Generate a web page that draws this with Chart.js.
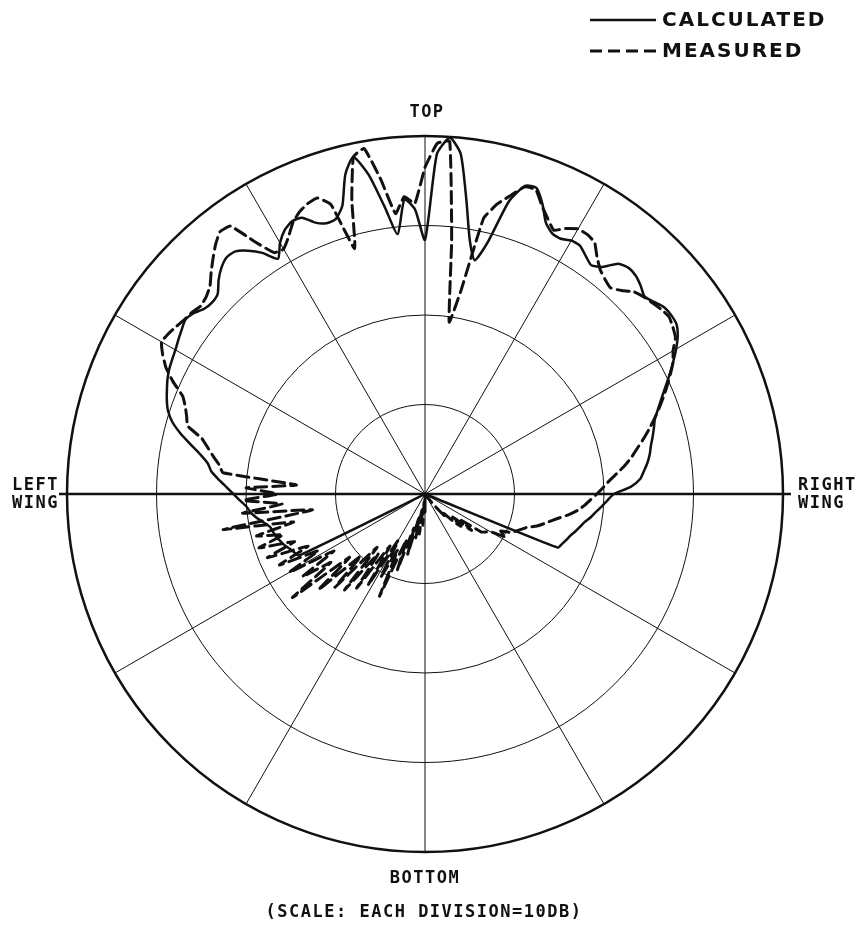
<!DOCTYPE html>
<html>
<head>
<meta charset="utf-8">
<script src="https://cdn.jsdelivr.net/npm/chart.js@4.4.1/dist/chart.umd.min.js"></script>
<style>
  html, body { margin: 0; padding: 0; background: #fff; overflow: hidden; }
  canvas { display: block; }
</style>
</head>
<body>
<canvas id="pattern" width="858" height="930"></canvas>
<script>
// Bearing of each sample in degrees, clockwise from TOP, every 2 degrees
const angles = Array.from({ length: 180 }, (_, i) => i * 2);

// Relative level in dB (0 = peak, -40 = centre of the plot)
const calculated = [
  /*   0 */ -11.6, -2.0, -0.1, -1.8, -6.8, -11.2, -13.3, -11.0, -6.0, -3.8,
  /*  20 */ -3.6, -5.0, -6.8, -7.6, -7.7, -7.3, -7.3, -7.9, -8.4, -7.8,
  /*  40 */ -6.4, -6.0, -6.1, -6.5, -7.0, -6.6, -6.1, -6.0, -6.1, -6.7,
  /*  60 */ -7.6, -8.6, -9.6, -10.6, -11.5, -12.3, -13.0, -13.4, -13.8, -14.2,
  /*  80 */ -14.5, -14.9, -15.4, -15.9, -17.0, -18.9, -19.6, -20.2, -20.8, -21.3,
  /* 100 */ -21.9, -22.3, -22.7, -23.1, -23.4, -23.7, -24.0, -40, -40, -40,
  /* 120 */ -40, -40, -40, -40, -40, -40, -40, -40, -40, -40,
  /* 140 */ -40, -40, -40, -40, -40, -40, -40, -40, -40, -40,
  /* 160 */ -40, -40, -40, -40, -40, -40, -40, -40, -40, -40,
  /* 180 */ -40, -40, -40, -40, -40, -40, -40, -40, -40, -40,
  /* 200 */ -40, -40, -40, -40, -40, -40, -40, -40, -40, -40,
  /* 220 */ -40, -40, -40, -40, -40, -40, -40, -40, -40, -40,
  /* 240 */ -40, -40, -24.3, -24.0, -23.7, -23.3, -23.0, -22.7, -22.5, -22.3,
  /* 260 */ -21.7, -21.0, -20.4, -20.0, -19.3, -18.6, -17.8, -16.9, -16.0, -15.5,
  /* 280 */ -14.5, -13.2, -11.8, -10.6, -9.8, -9.3, -8.9, -8.5, -8.2, -8.0,
  /* 300 */ -7.8, -7.5, -7.2, -6.9, -7.2, -7.8, -8.0, -7.8, -6.8, -6.0,
  /* 320 */ -5.5, -5.6, -6.4, -7.5, -9.0, -7.6, -6.6, -6.1, -6.2, -7.3,
  /* 340 */ -7.8, -7.7, -6.5, -3.2, -1.5, -3.8, -7.6, -10.8, -7.0, -8.2
];

const measured = [
  /*   0 */ -3.5, -0.8, -0.5, -11.5, -20.6, -17.0, -8.5, -6.6, -5.3, -3.9,
  /*  20 */ -3.8, -5.2, -6.3, -7.2, -6.4, -5.8, -5.8, -6.1, -7.3, -8.2,
  /*  40 */ -8.7, -9.0, -8.4, -7.5, -7.1, -6.8, -6.5, -6.3, -6.6, -7.0,
  /*  60 */ -8.0, -8.6, -9.5, -10.4, -11.3, -12.2, -13.1, -14.0, -14.9, -15.8,
  /*  80 */ -16.6, -17.5, -18.5, -19.4, -20.1, -20.8, -21.5, -22.1, -22.8, -23.7,
  /* 100 */ -24.7, -25.6, -26.3, -27.0, -28.0, -28.5, -29.0, -29.4, -30.6, -29.8,
  /* 120 */ -31.6, -32.0, -32.4, -35.0, -33.4, -36.0, -34.6, -35.6, -37.0, -36.5,
  /* 140 */ -38.0, -39.0, -40, -40, -40, -40, -40, -40, -40, -40,
  /* 160 */ -40, -40, -40, -40, -40, -40, -40, -40, -40, -40,
  /* 180 */ -38.0, -40.0, -36.5, -39.0, -35.5, -38.5, -35.0, -37.5, -33.0, -36.0,
  /* 200 */ -31.0, -34.5, -27.5, -33.0, -29.5, -34.0, -28.0, -33.0, -27.0, -31.5,
  /* 220 */ -26.0, -32.0, -25.5, -30.0, -24.0, -29.0, -21.2, -27.0, -23.5, -28.0,
  /* 240 */ -22.5, -26.5, -21.9, -25.7, -21.0, -24.5, -20.5, -23.5, -20.6, -25.0,
  /* 260 */ -17.1, -27.3, -19.5, -24.0, -19.7, -23.5, -20.0, -25.6, -17.3, -16.8,
  /* 280 */ -16.0, -15.2, -14.3, -12.4, -12.0, -11.5, -10.8, -9.2, -7.8, -6.8,
  /* 300 */ -6.0, -6.2, -6.5, -6.8, -7.0, -7.3, -7.1, -6.6, -5.6, -4.6,
  /* 320 */ -3.6, -2.8, -3.0, -6.0, -8.2, -8.4, -7.5, -6.3, -5.5, -5.0,
  /* 340 */ -4.8, -6.0, -11.5, -6.2, -1.5, -0.8, -4.5, -8.5, -6.7, -7.5
];

// Range rings: one every 10 dB
const ringMin = -40;
const ringMax = 0;
const ringStep = 10;

const seriesNames = ['CALCULATED', 'MEASURED'];
const directionLabels = { top: ['TOP'], bottom: ['BOTTOM'], left: ['LEFT', 'WING'], right: ['RIGHT', 'WING'] };
const scaleNote = '(SCALE: EACH DIVISION=10DB)';

const INK = '#111';
const labelFont = 'bold 17px "DejaVu Sans Mono", monospace';
const legendFont = 'bold 20px "DejaVu Sans", sans-serif';

// Extends the wing axis past the rim and writes the direction labels,
// the scale note and the line-style key.
const plotFrame = {
  id: 'plotFrame',
  afterDraw(chart) {
    const r = chart.scales.r;
    const ctx = chart.ctx;
    const cx = r.xCenter, cy = r.yCenter, R = r.drawingArea;
    const wingRight = r.getPointPosition(angles.indexOf(90), R + 8);
    const wingLeft = r.getPointPosition(angles.indexOf(270), R + 8);

    ctx.save();
    ctx.strokeStyle = INK;
    ctx.lineWidth = 2.5;
    ctx.beginPath();
    ctx.moveTo(wingLeft.x, wingLeft.y);
    ctx.lineTo(wingRight.x, wingRight.y);
    ctx.stroke();

    ctx.fillStyle = INK;
    ctx.font = labelFont;
    ctx.letterSpacing = '1.5px';
    ctx.textBaseline = 'middle';

    ctx.textAlign = 'center';
    ctx.fillText(directionLabels.top[0], cx + 2, cy - R - 23);
    ctx.fillText(directionLabels.bottom[0], cx, cy + R + 27);
    ctx.fillText(scaleNote, cx - 1, cy + R + 61);

    ctx.textAlign = 'right';
    ctx.fillText(directionLabels.left[0], cx - R - 8, cy - 8);
    ctx.fillText(directionLabels.left[1], cx - R - 8, cy + 10);

    ctx.textAlign = 'left';
    ctx.fillText(directionLabels.right[0], cx + R + 15, cy - 8);
    ctx.fillText(directionLabels.right[1], cx + R + 15, cy + 10);

    // line-style key, top right
    ctx.font = legendFont;
    ctx.letterSpacing = '2px';
    ctx.textAlign = 'left';
    const keyRows = [20, 51];
    chart.data.datasets.forEach((ds, i) => {
      const y = keyRows[i];
      ctx.lineWidth = ds.borderWidth;
      ctx.setLineDash(ds.borderDash || []);
      ctx.beginPath();
      ctx.moveTo(590, y);
      ctx.lineTo(656, y);
      ctx.stroke();
      ctx.setLineDash([]);
      ctx.fillText(ds.label, 662, y + 1);
    });
    ctx.restore();
  }
};

new Chart(document.getElementById('pattern'), {
  type: 'radar',
  data: {
    labels: angles,
    datasets: [
      {
        label: seriesNames[0],
        data: calculated,
        borderColor: INK,
        borderWidth: 2.5,
        borderDash: [],
        tension: 0.2,
        fill: false
      },
      {
        label: seriesNames[1],
        data: measured,
        borderColor: INK,
        borderWidth: 3,
        borderDash: [12, 6],
        tension: 0.12,
        fill: false
      }
    ]
  },
  options: {
    responsive: false,
    devicePixelRatio: 1,
    animation: false,
    layout: { padding: { left: 67, right: 75, top: 136, bottom: 78 } },
    elements: {
      line: { borderJoinStyle: 'round', borderCapStyle: 'round' },
      point: { radius: 0, hoverRadius: 0 }
    },
    plugins: {
      legend: { display: false },
      tooltip: { enabled: false }
    },
    scales: {
      r: {
        min: ringMin,
        max: ringMax,
        startAngle: 0,
        ticks: { display: false, stepSize: ringStep },
        pointLabels: { display: false },
        grid: {
          circular: true,
          color: INK,
          lineWidth: (c) => (c.tick && c.tick.value === ringMax ? 2.5 : 1)
        },
        angleLines: {
          color: INK,
          lineWidth: (c) => {
            const a = angles[c.index];
            if (a % 30 !== 0) return 0;
            return 1;
          }
        }
      }
    }
  },
  plugins: [plotFrame]
});
</script>
</body>
</html>
